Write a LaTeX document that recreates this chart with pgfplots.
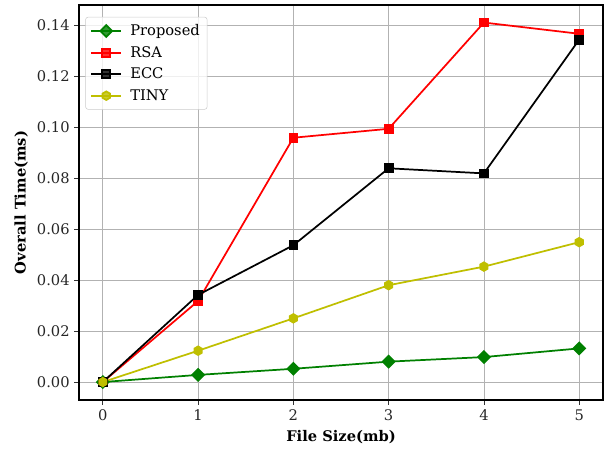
\documentclass[border=0pt]{standalone}
\usepackage{pgfplots}
\pgfplotsset{compat=1.18}
\usepackage{fontspec}
\setmainfont{DejaVu Serif}
\definecolor{mgreen}{rgb}{0,0.5,0}
\definecolor{myellow}{rgb}{0.75,0.75,0}
\pgfdeclareplotmark{hexagon*}{%
  \pgfpathmoveto{\pgfqpointpolar{90}{\pgfplotmarksize}}%
  \pgfpathlineto{\pgfqpointpolar{150}{\pgfplotmarksize}}%
  \pgfpathlineto{\pgfqpointpolar{210}{\pgfplotmarksize}}%
  \pgfpathlineto{\pgfqpointpolar{270}{\pgfplotmarksize}}%
  \pgfpathlineto{\pgfqpointpolar{330}{\pgfplotmarksize}}%
  \pgfpathlineto{\pgfqpointpolar{30}{\pgfplotmarksize}}%
  \pgfpathclose
  \pgfusepathqfillstroke}
\begin{document}
\begin{tikzpicture}
\begin{axis}[
  scale only axis,
  width=393pt, height=296.25pt,
  xmin=-0.25, xmax=5.25,
  ymin=-0.00705, ymax=0.148,
  xtick={0,1,2,3,4,5},
  ytick={0,0.02,0.04,0.06,0.08,0.10,0.12,0.14},
  yticklabel style={/pgf/number format/.cd,fixed,fixed zerofill,precision=2},
  /pgf/number format/assume math mode=true,
  tick label style={font=\fontsize{11}{13}\selectfont, text=black!85},
  tick align=outside,
  tick pos=left,
  major tick length=3.5pt,
  tick style={black!80, line width=0.6pt},
  grid=major,
  grid style={black!30, line width=0.6pt},
  axis line style={black, line width=0.8pt},
  xlabel={\textbf{File Size(mb)}},
  ylabel={\textbf{Overall Time(ms)}},
  label style={font=\fontsize{11}{13}\selectfont},
  xlabel style={yshift=-0.5pt},
  ylabel style={yshift=0pt},
  legend cell align=left,
  legend image code/.code={\draw[mark repeat=2,mark phase=2] plot coordinates {(0cm,0cm)(0.4cm,0cm)(0.8cm,0cm)};},
  legend style={font=\fontsize{11}{13}\selectfont, draw=black!20, rounded corners=2pt, fill=white, fill opacity=0.8, text opacity=1, at={(0.012,0.97)}, anchor=north west, row sep=2.5pt, inner sep=3.5pt, /tikz/every odd column/.append style={column sep=4pt}},
]
\addplot[color=mgreen, line width=1.3pt, mark=square*, mark size=3.1pt, mark options={fill=mgreen, rotate=45}] coordinates {
(0,0) (1,0.0028) (2,0.0052) (3,0.0080) (4,0.0098) (5,0.0132)};
\addlegendentry{Proposed}
\addplot[color=red, line width=1.3pt, mark=square*, mark size=3.0pt, mark options={fill=red}] coordinates {
(0,0) (1,0.0318) (2,0.0959) (3,0.0994) (4,0.1411) (5,0.1367)};
\addlegendentry{RSA}
\addplot[color=black, line width=1.3pt, mark=square*, mark size=3.0pt, mark options={fill=black}] coordinates {
(0,0) (1,0.0342) (2,0.0537) (3,0.0839) (4,0.0819) (5,0.1344)};
\addlegendentry{ECC}
\addplot[color=myellow, line width=1.3pt, mark=hexagon*, mark size=3.2pt, mark options={fill=myellow}] coordinates {
(0,0) (1,0.0123) (2,0.0250) (3,0.0380) (4,0.0453) (5,0.0549)};
\addlegendentry{TINY}
\end{axis}
\path ([xshift=-59.25pt, yshift=-35.25pt]current axis.south west) rectangle ([xshift=0.75pt, yshift=3.75pt]current axis.north east);
\end{tikzpicture}
\end{document}
